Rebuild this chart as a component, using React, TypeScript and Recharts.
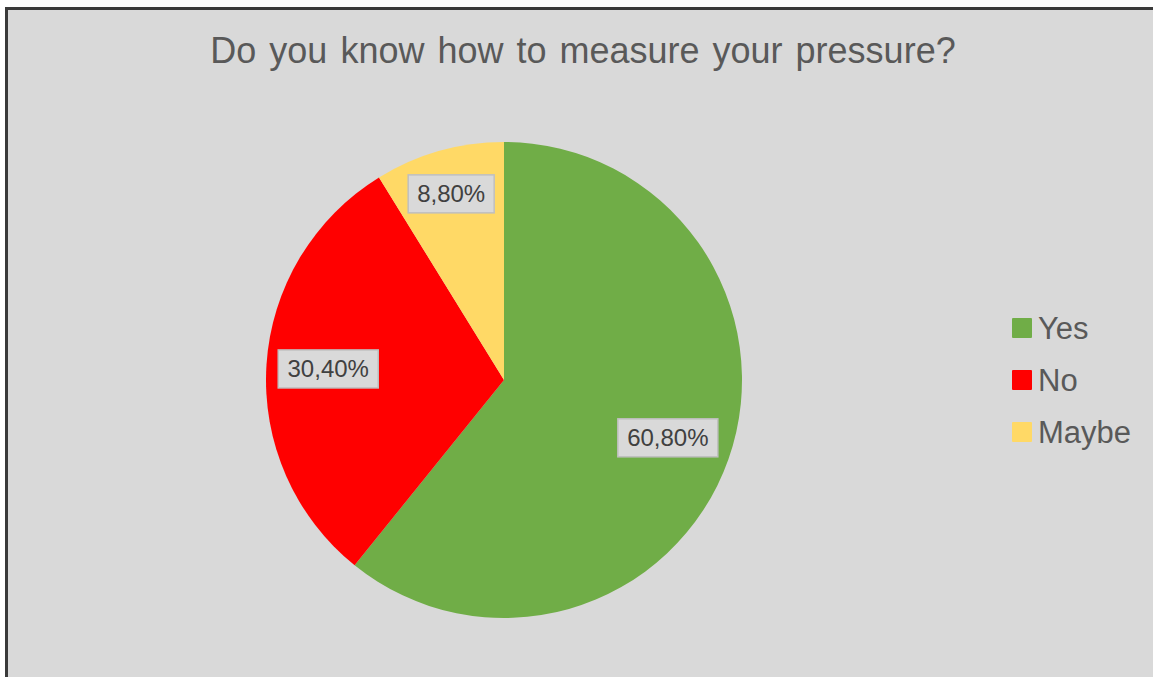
import React from "react";
import { PieChart, Pie, Cell, Legend } from "recharts";

const categories = ["Yes", "No", "Maybe"];
const values = [60.8, 30.4, 8.8];
const colors = ["#70AD47", "#FF0000", "#FFD966"];
const title = "Do you know how to measure your pressure?";

const data = categories.map((name, i) => ({ name, value: values[i] }));

const LABEL_RATIOS = [0.73, 0.74, 0.813];
const RADIAN = Math.PI / 180;
const FONT = "'Liberation Sans', Arial, sans-serif";

const renderLabel = (props: any) => {
  const { cx, cy, midAngle, outerRadius, index, value } = props;
  const r = outerRadius * LABEL_RATIOS[index];
  const x = cx + r * Math.cos(-midAngle * RADIAN);
  const y = cy + r * Math.sin(-midAngle * RADIAN);
  const text = Number(value).toFixed(2).replace(".", ",") + "%";
  const w = text.length * 14 + 16;
  const h = 38;
  return (
    <g>
      <rect x={x - w / 2} y={y - h / 2} width={w} height={h} fill="#D9D9D9" stroke="#BFBFBF" strokeWidth={1.5} />
      <text x={x} y={y} textAnchor="middle" dominantBaseline="central" fontFamily={FONT} fontSize={24} fill="#404040">
        {text}
      </text>
    </g>
  );
};

const renderLegend = (props: any) => {
  const payload = [...(props.payload || [])].sort(
    (a: any, b: any) => categories.indexOf(a.value) - categories.indexOf(b.value)
  );
  return (
    <div style={{ fontFamily: FONT }}>
      {payload.map((p: any, i: number) => (
        <div key={i} style={{ display: "flex", alignItems: "center", height: 52 }}>
          <div style={{ width: 20, height: 20, background: p.color, marginRight: 6, borderRadius: 1 }} />
          <span style={{ fontSize: 31, color: "#595959", lineHeight: "31px" }}>{p.value}</span>
        </div>
      ))}
    </div>
  );
};

export default function App() {
  return (
    <div style={{ position: "fixed", left: 0, top: 0, width: 1153, height: 677, background: "#fff", overflow: "hidden" }}>
      <div
        style={{
          position: "absolute",
          left: 5,
          top: 7,
          width: 1160,
          height: 690,
          background: "#D9D9D9",
          borderTop: "3px solid #3A3A3A",
          borderLeft: "3px solid #3A3A3A",
        }}
      />
      <div
        style={{
          position: "absolute",
          left: 0,
          width: 1166,
          top: 31,
          textAlign: "center",
          fontFamily: FONT,
          fontSize: 36,
          lineHeight: "40px",
          wordSpacing: 3,
          color: "#595959",
        }}
      >
        {title}
      </div>
      <div style={{ position: "absolute", left: 0, top: 0 }}>
        <PieChart width={1153} height={677} margin={{ top: 0, right: 0, bottom: 0, left: 0 }}>
          <Pie
            data={data}
            dataKey="value"
            nameKey="name"
            cx={504}
            cy={380}
            outerRadius={238}
            startAngle={90}
            endAngle={-270}
            stroke="none"
            label={renderLabel}
            labelLine={false}
            isAnimationActive={false}
          >
            {data.map((d, i) => (
              <Cell key={d.name} fill={colors[i]} />
            ))}
          </Pie>
          <Legend
            layout="vertical"
            align="right"
            verticalAlign="top"
            content={renderLegend}
            wrapperStyle={{ left: 1012, top: 302, width: 140 }}
          />
        </PieChart>
      </div>
    </div>
  );
}
